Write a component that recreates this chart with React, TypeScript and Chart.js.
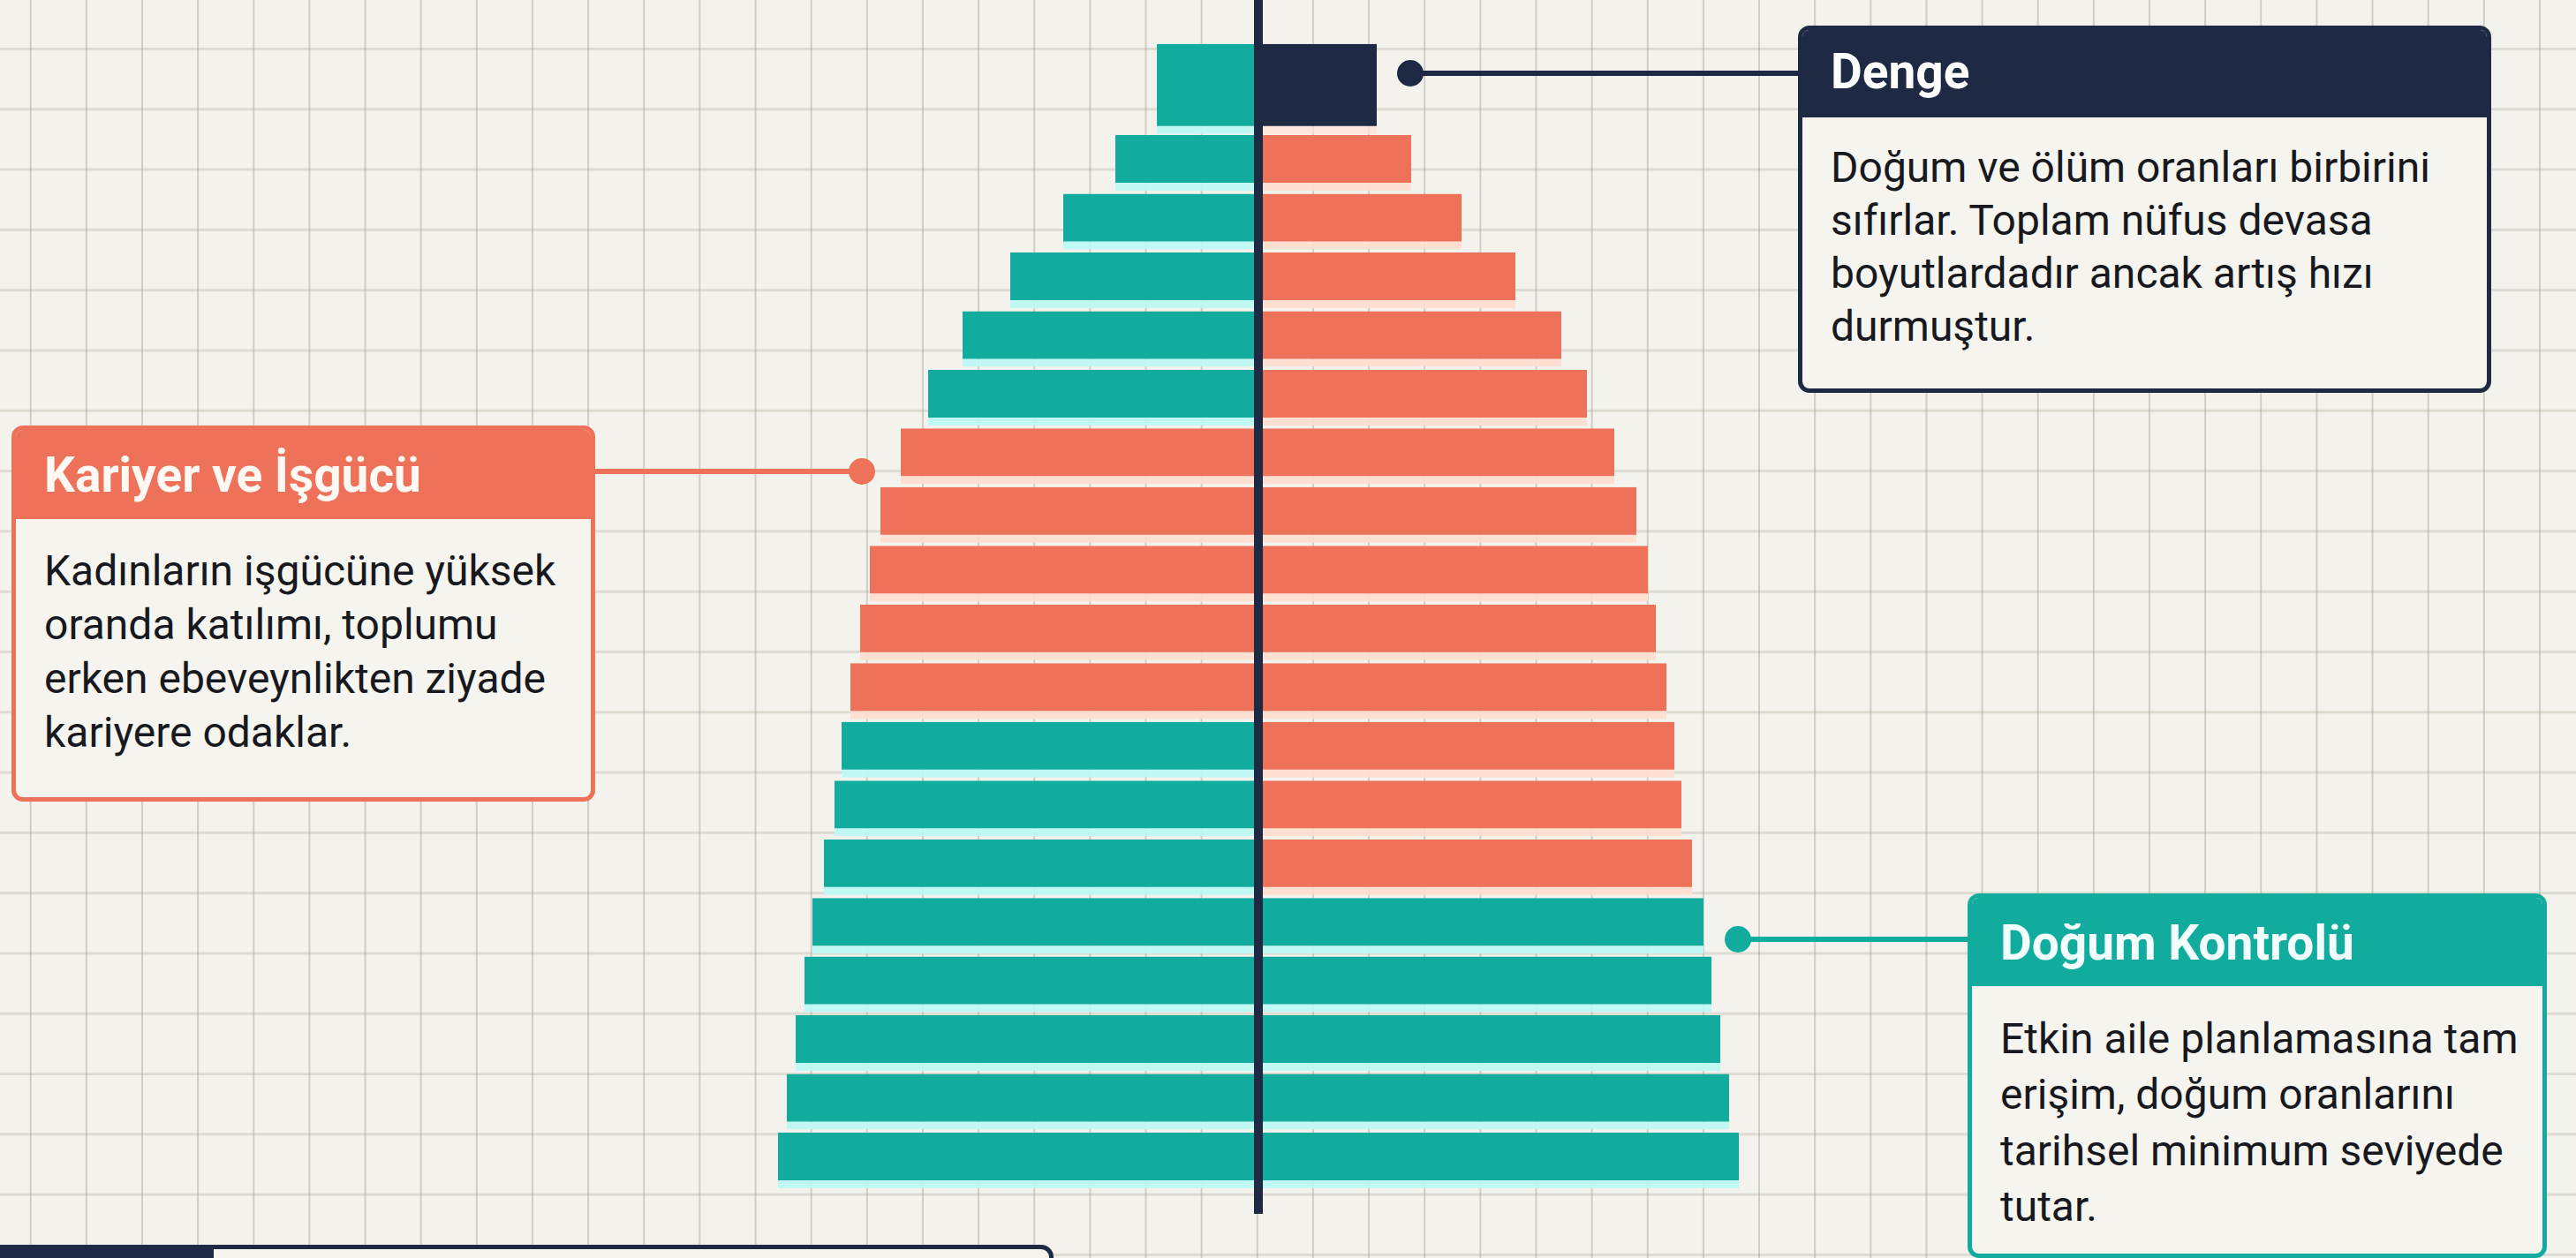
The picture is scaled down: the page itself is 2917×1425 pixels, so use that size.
import React, { useEffect, useRef } from "react";
import { Chart, registerables } from "chart.js";

Chart.register(...registerables);

// ---------- DATA (bottom row → top row) ----------
const ageGroups = ["0-4", "5-9", "10-14", "15-19", "20-24", "25-29", "30-34", "35-39", "40-44", "45-49", "50-54", "55-59", "60-64", "65-69", "70-74", "75-79", "80-84", "85-89"];
const ageMid = [2.5, 7.5, 12.5, 17.5, 22.5, 27.5, 32.5, 37.5, 42.5, 47.5, 52.5, 57.5, 62.5, 67.5, 72.5, 77.5, 82.5, 87.5];
const leftValues = [5.44, 5.34, 5.24, 5.14, 5.05, 4.92, 4.8, 4.72, 4.62, 4.51, 4.4, 4.28, 4.05, 3.74, 3.35, 2.81, 2.21, 1.62];
const rightValues = [5.44, 5.33, 5.23, 5.13, 5.04, 4.91, 4.79, 4.71, 4.62, 4.5, 4.41, 4.28, 4.03, 3.72, 3.43, 2.91, 2.3, 1.73];
// phase highlighted by each bar: dk = Doğum Kontrolü, ki = Kariyer ve İşgücü, de = Denge
const leftPhase = ["dk", "dk", "dk", "dk", "dk", "dk", "dk", "dk", "ki", "ki", "ki", "ki", "ki", "dk", "dk", "dk", "dk", "dk"];
const rightPhase = ["dk", "dk", "dk", "dk", "dk", "ki", "ki", "ki", "ki", "ki", "ki", "ki", "ki", "ki", "ki", "ki", "ki", "ki"];

// open-ended top group
const apexGroup = ["90+"];
const apexAge = [93.8];
const apexLeft = [1.15];
const apexRight = [1.34];
const apexLeftPhase = ["dk"];
const apexRightPhase = ["de"];

// ---------- STYLE ----------
const TEAL = "#12AC9F";
const CORAL = "#EE715A";
const NAVY = "#1E2A44";
const SOLID: Record<string, string> = { dk: TEAL, ki: CORAL, de: NAVY };
const GLOW: Record<string, string> = {
  dk: "rgba(188,250,244,0.92)",
  ki: "rgba(255,222,208,0.92)",
  de: "rgba(255,226,214,0.75)",
};
const FONT = "Roboto, 'Noto Sans', sans-serif";
const BOX_BG = "#F5F4EF";
const TEXT = "#17191E";

const ROBOTO_ASC = 0.927734;
const ROBOTO_CONTENT = 1.171875;
function topFromBaseline(baseline: number, size: number, lh: number) {
  return baseline - ((lh - ROBOTO_CONTENT * size) / 2 + ROBOTO_ASC * size);
}

type CalloutProps = {
  left: number;
  top: number;
  width: number;
  height: number;
  headerBottom: number;
  color: string;
  titleColor: string;
  title: string;
  titleX: number;
  titleBaseline: number;
  lines: string[];
  bodyBaseline: number;
  bodyLh: number;
};

const BW = 5;
const TITLE_SIZE = 55;
const TITLE_LH = 70;
const BODY_SIZE = 48;

function Callout(p: CalloutProps) {
  const ox = p.left + BW;
  const oy = p.top + BW;
  return (
    <div
      style={{
        position: "absolute",
        left: p.left,
        top: p.top,
        width: p.width,
        height: p.height,
        boxSizing: "border-box",
        border: `${BW}px solid ${p.color}`,
        borderRadius: 13,
        background: BOX_BG,
        overflow: "hidden",
      }}
    >
      <div
        style={{
          position: "absolute",
          left: 0,
          top: 0,
          right: 0,
          height: p.headerBottom - oy,
          background: p.color,
        }}
      />
      <div
        style={{
          position: "absolute",
          left: p.titleX - ox,
          top: topFromBaseline(p.titleBaseline, TITLE_SIZE, TITLE_LH) - oy,
          fontSize: TITLE_SIZE,
          lineHeight: `${TITLE_LH}px`,
          fontWeight: 700,
          color: p.titleColor,
          whiteSpace: "nowrap",
        }}
      >
        {p.title}
      </div>
      <div
        style={{
          position: "absolute",
          left: p.titleX - ox,
          top: topFromBaseline(p.bodyBaseline, BODY_SIZE, p.bodyLh) - oy,
          fontSize: BODY_SIZE,
          lineHeight: `${p.bodyLh}px`,
          color: TEXT,
          whiteSpace: "nowrap",
        }}
      >
        {p.lines.map((l, i) => (
          <div key={i}>{l}</div>
        ))}
      </div>
    </div>
  );
}

function Connector({ x1, x2, y, color }: { x1: number; x2: number; y: number; color: string }) {
  return (
    <div
      style={{
        position: "absolute",
        left: x1,
        top: y - 3,
        width: x2 - x1,
        height: 6,
        background: color,
      }}
    />
  );
}

function Dot({ x, y, color }: { x: number; y: number; color: string }) {
  return (
    <div
      style={{
        position: "absolute",
        left: x - 15,
        top: y - 15,
        width: 30,
        height: 30,
        borderRadius: "50%",
        background: color,
      }}
    />
  );
}

export default function App() {
  const ref = useRef<HTMLCanvasElement>(null);

  useEffect(() => {
    const canvas = ref.current;
    if (!canvas) return;
    const common = {
      borderSkipped: false as const,
      borderWidth: { top: 0, left: 0, right: 0, bottom: 9 },
      inflateAmount: 0,
      grouped: false,
    };
    const chart = new Chart(canvas, {
      type: "bar",
      data: {
        datasets: [
          {
            label: "Erkek",
            data: ageMid.map((a, i) => ({ x: -leftValues[i], y: a, g: ageGroups[i] })),
            backgroundColor: (c: any) => SOLID[leftPhase[c.dataIndex]],
            borderColor: (c: any) => GLOW[leftPhase[c.dataIndex]],
            barThickness: 63,
            ...common,
          },
          {
            label: "Kadın",
            data: ageMid.map((a, i) => ({ x: rightValues[i], y: a, g: ageGroups[i] })),
            backgroundColor: (c: any) => SOLID[rightPhase[c.dataIndex]],
            borderColor: (c: any) => GLOW[rightPhase[c.dataIndex]],
            barThickness: 63,
            ...common,
          },
          {
            label: "Erkek " + apexGroup[0],
            data: apexAge.map((a, i) => ({ x: -apexLeft[i], y: a })),
            backgroundColor: (c: any) => SOLID[apexLeftPhase[c.dataIndex]],
            borderColor: (c: any) => GLOW[apexLeftPhase[c.dataIndex]],
            barThickness: 102,
            ...common,
          },
          {
            label: "Kadın " + apexGroup[0],
            data: apexAge.map((a, i) => ({ x: apexRight[i], y: a })),
            backgroundColor: (c: any) => SOLID[apexRightPhase[c.dataIndex]],
            borderColor: (c: any) => GLOW[apexRightPhase[c.dataIndex]],
            barThickness: 102,
            ...common,
          },
        ] as any,
      },
      options: {
        indexAxis: "y",
        responsive: false,
        animation: false,
        events: [],
        layout: { padding: { left: 825, right: 892, top: 0, bottom: 50 } },
        plugins: { legend: { display: false }, tooltip: { enabled: false } },
        scales: {
          x: {
            type: "linear",
            min: -6,
            max: 6,
            offset: false,
            ticks: { display: false, stepSize: 1 },
            border: { display: false },
            grid: {
              z: 1,
              offset: false,
              drawTicks: false,
              color: NAVY,
              lineWidth: (c: any) => (c.tick && c.tick.value === 0 ? 10 : 0),
            },
          },
          y: {
            type: "linear",
            min: -2.05,
            max: 101.38,
            offset: false,
            grid: { offset: false },
            display: false,
          },
        },
      } as any,
    });
    return () => chart.destroy();
  }, []);

  return (
    <div
      style={{
        position: "fixed",
        left: 0,
        top: 0,
        width: 2917,
        height: 1425,
        overflow: "hidden",
        fontFamily: FONT,
        backgroundColor: "#F3F2EC",
        backgroundImage:
          "linear-gradient(to right, rgba(160,156,140,0.42) 0px, rgba(160,156,140,0.42) 1.6px, transparent 1.6px), linear-gradient(to bottom, rgba(175,170,155,0.32) 0px, rgba(175,170,155,0.32) 3px, transparent 3px)",
        backgroundSize: "63.15px 100%, 100% 68.31px",
        backgroundPosition: "33.7px 0px, 0px 54px",
      }}
    >
      <canvas
        ref={ref}
        width={2917}
        height={1425}
        style={{ position: "absolute", left: 0, top: 0, width: 2917, height: 1425, display: "block" }}
      />

      {/* connectors */}
      <Connector x1={1597} x2={2040} y={83} color={NAVY} />
      <Dot x={1597} y={83} color={NAVY} />
      <Connector x1={670} x2={976} y={534} color={CORAL} />
      <Dot x={976} y={534} color={CORAL} />
      <Connector x1={1968} x2={2232} y={1064} color={TEAL} />
      <Dot x={1968} y={1064} color={TEAL} />

      <Callout
        left={2036}
        top={29}
        width={785}
        height={416}
        headerBottom={133}
        color={NAVY}
        titleColor="#FFFFFF"
        title="Denge"
        titleX={2073}
        titleBaseline={100}
        lines={["Doğum ve ölüm oranları birbirini", "sıfırlar. Toplam nüfus devasa", "boyutlardadır ancak artış hızı", "durmuştur."]}
        bodyBaseline={206}
        bodyLh={60}
      />
      <Callout
        left={13}
        top={482}
        width={661}
        height={426}
        headerBottom={588}
        color={CORAL}
        titleColor="#FFF8F3"
        title="Kariyer ve İşgücü"
        titleX={50}
        titleBaseline={557}
        lines={["Kadınların işgücüne yüksek", "oranda katılımı, toplumu", "erken ebeveynlikten ziyade", "kariyere odaklar."]}
        bodyBaseline={663}
        bodyLh={61}
      />
      <Callout
        left={2228}
        top={1012}
        width={656}
        height={413}
        headerBottom={1117}
        color={TEAL}
        titleColor="#F2FFFC"
        title="Doğum Kontrolü"
        titleX={2265}
        titleBaseline={1087}
        lines={["Etkin aile planlamasına tam", "erişim, doğum oranlarını", "tarihsel minimum seviyede", "tutar."]}
        bodyBaseline={1193}
        bodyLh={63.5}
      />

      {/* partially visible box at the bottom-left */}
      <div
        style={{
          position: "absolute",
          left: -20,
          top: 1410,
          width: 1213,
          height: 80,
          boxSizing: "border-box",
          border: `${BW}px solid ${NAVY}`,
          borderRadius: 14,
          background: BOX_BG,
          overflow: "hidden",
        }}
      >
        <div style={{ position: "absolute", left: 0, top: 0, width: 257, height: "100%", background: NAVY }} />
      </div>
    </div>
  );
}
